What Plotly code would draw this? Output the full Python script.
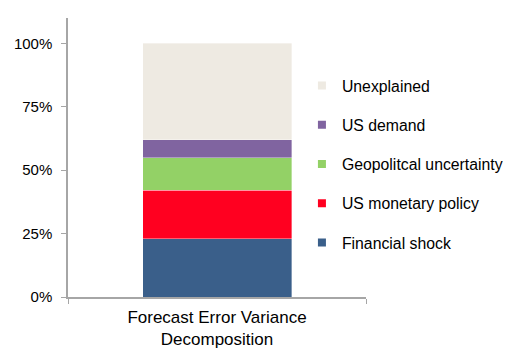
import plotly.graph_objects as go

categories = ["Forecast Error Variance<br>Decomposition"]
series_names = ["Financial shock", "US monetary policy", "Geopolitcal uncertainty", "US demand", "Unexplained"]
series_values = [[0.23], [0.19], [0.13], [0.07], [0.38]]
colors = ["#3A5F8A", "#FF0020", "#93D166", "#8064A0", "#EEEAE2"]
tick_vals = [0, 0.25, 0.5, 0.75, 1.0]
tick_text = ["0%", "25%", "50%", "75%", "100%"]

fig = go.Figure()
for name, vals, col in zip(series_names, series_values, colors):
    fig.add_trace(go.Bar(
        x=categories, y=vals, name=name, showlegend=False,
        marker=dict(color=col, line=dict(width=0.6, color="rgba(255,255,255,0.6)")),
        width=0.5,
    ))

# legend entries (top-down order matches stacking) with small square swatches
for name, col in reversed(list(zip(series_names, colors))):
    fig.add_trace(go.Scatter(
        x=[None], y=[None], mode="markers", name=name, legendgroup=name,
        marker=dict(symbol="square", size=8, color=col),
    ))

fig.update_layout(
    barmode="stack",
    width=503, height=351,
    margin=dict(l=60, r=145, t=10, b=62, autoexpand=False),
    paper_bgcolor="white", plot_bgcolor="white",
    font=dict(family="Liberation Sans, Arial, sans-serif", color="#000000"),
    showlegend=True,
    legend=dict(
        x=0.785, xanchor="left", y=0.818, yanchor="top",
        traceorder="grouped", tracegroupgap=15.7,
        font=dict(size=15.8, color="#000000"),
        itemwidth=30, bgcolor="rgba(0,0,0,0)",
    ),
    xaxis=dict(
        range=[-0.5, 0.5], showline=True, linecolor="#A6A6A6", linewidth=1.5,
        ticks="outside", tickson="boundaries", ticklen=5, tickcolor="#A6A6A6",
        tickfont=dict(size=17), showgrid=False, zeroline=False,
        ticklabelstandoff=4,
    ),
    yaxis=dict(
        range=[0, 1.1], tickvals=tick_vals, ticktext=tick_text,
        showline=True, linecolor="#A6A6A6", linewidth=1.5,
        ticks="outside", ticklen=5, tickcolor="#A6A6A6",
        tickfont=dict(size=15), showgrid=False, zeroline=False,
        ticklabelstandoff=6,
    ),
)

fig.write_html("out.html")
